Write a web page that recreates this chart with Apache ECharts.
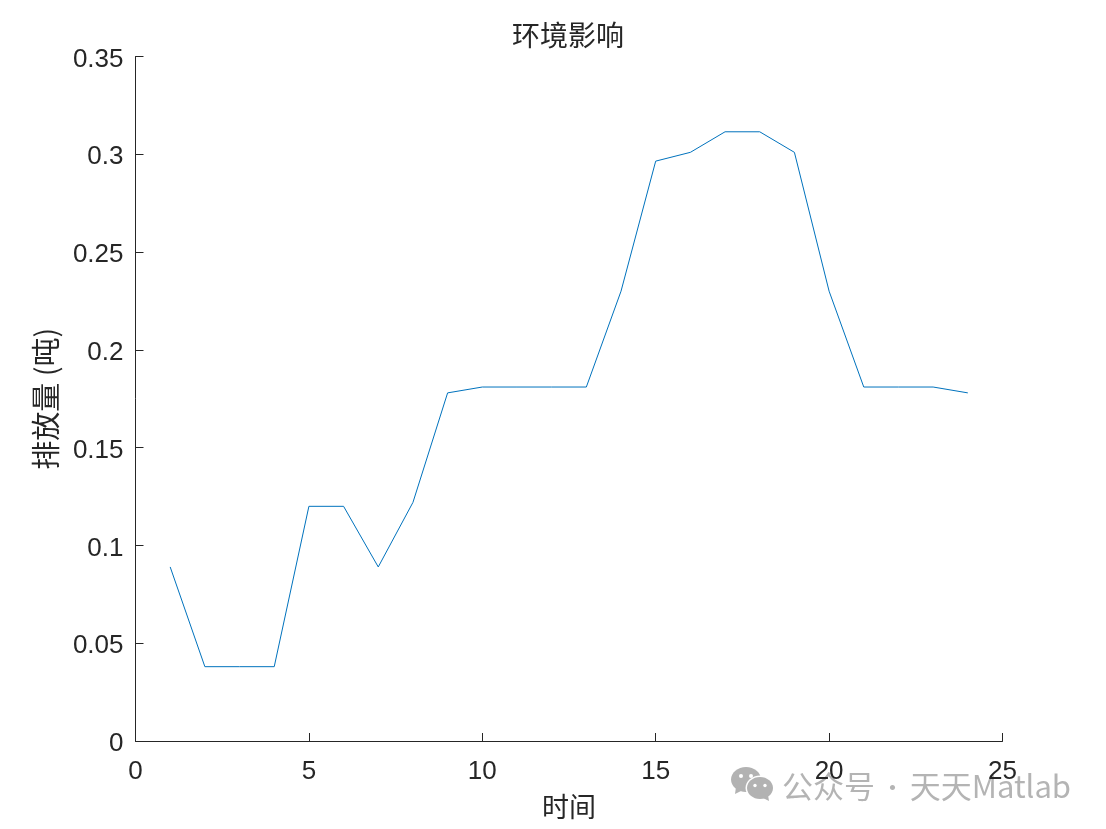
<!DOCTYPE html>
<html><head><meta charset="utf-8">
<style>html,body{margin:0;padding:0;background:#fff}#c{width:1106px;height:829px}</style>
<script src="https://cdn.jsdelivr.net/npm/echarts@6/dist/echarts.min.js"></script>
</head><body><div id="c"></div>
<script>
const hours = [1,2,3,4,5,6,7,8,9,10,11,12,13,14,15,16,17,18,19,20,21,22,23,24];
const emissions = [0.089,0.038,0.038,0.038,0.12,0.12,0.089,0.122,0.178,0.181,0.181,0.181,0.181,0.23,0.2965,0.301,0.3115,0.3115,0.301,0.23,0.181,0.181,0.181,0.178];
const titleText = '环境影响';
const xName = '时间';
const yName = '排放量 (吨)';
const chart = echarts.init(document.getElementById('c'), null, {renderer:'canvas'});
const axisCommon = {
  axisLine:{show:true,onZero:false,lineStyle:{color:'#262626',width:1}},
  axisTick:{show:true,inside:true,length:8,lineStyle:{color:'#262626',width:1}},
  splitLine:{show:false},
  nameLocation:'middle',
  axisLabel:{fontFamily:'Liberation Sans',fontSize:26,color:'#262626'}
};
chart.setOption({
  animation:false,
  backgroundColor:'#fff',
  title:{text:titleText,left:563,top:16,textAlign:'center',textStyle:{fontFamily:'Noto Sans CJK SC',fontSize:28,fontWeight:'normal',color:'#262626'}},
  grid:{left:135.5,right:103.5,top:56.5,bottom:88,containLabel:false},
  xAxis:Object.assign({},axisCommon,{type:'value',min:0,max:25,interval:5,name:xName,nameGap:52,
    nameTextStyle:{fontFamily:'Noto Sans CJK SC',fontSize:27,color:'#262626'},
    axisLabel:Object.assign({},axisCommon.axisLabel,{margin:18})}),
  yAxis:Object.assign({},axisCommon,{type:'value',min:0,max:0.35,interval:0.05,name:yName,nameGap:75,
    nameTextStyle:{fontFamily:'Noto Sans CJK SC',fontSize:29,color:'#262626'},
    axisLabel:Object.assign({},axisCommon.axisLabel,{margin:12,verticalAlign:'top',lineHeight:6,formatter:v=>String(+v.toFixed(2))})}),
  series:[{type:'line',data:hours.map((h,i)=>[h,emissions[i]]),showSymbol:false,symbol:'none',
    lineStyle:{color:'#0072BD',width:1}}],
  graphic:[
    {type:'group',left:731,top:767,silent:true,children:[
      {type:'ellipse',shape:{cx:15,cy:12.5,rx:15,ry:12.5},style:{fill:'#b2b2b2'}},
      {type:'polygon',shape:{points:[[5,20],[4,27],[12,23]]},style:{fill:'#b2b2b2'}},
      {type:'circle',shape:{cx:10,cy:9,r:2},style:{fill:'#fff'}},
      {type:'circle',shape:{cx:20,cy:9,r:2},style:{fill:'#fff'}},
      {type:'ellipse',shape:{cx:29,cy:21,rx:14.5,ry:12.5},style:{fill:'#fff'}},
      {type:'ellipse',shape:{cx:29,cy:21,rx:13,ry:11},style:{fill:'#b2b2b2'}},
      {type:'polygon',shape:{points:[[32,31],[38,34],[37,28]]},style:{fill:'#b2b2b2'}},
      {type:'circle',shape:{cx:24,cy:18.5,r:1.7},style:{fill:'#fff'}},
      {type:'circle',shape:{cx:34,cy:18.5,r:1.7},style:{fill:'#fff'}}
    ]},
    {type:'text',left:782,top:771,silent:true,style:{text:'{a|公众号}{s| · }{a|天天}{m|Matlab}',rich:{
      a:{fontFamily:'Noto Sans CJK SC',fontSize:31,fill:'#b4b4b4',color:'#b4b4b4'},
      s:{fontFamily:'Noto Sans CJK SC',fontSize:24,fill:'#b4b4b4',color:'#b4b4b4'},
      m:{fontFamily:'Noto Sans CJK SC',fontSize:31,fill:'#b4b4b4',color:'#b4b4b4'}}}}
  ]
});
</script></body></html>
